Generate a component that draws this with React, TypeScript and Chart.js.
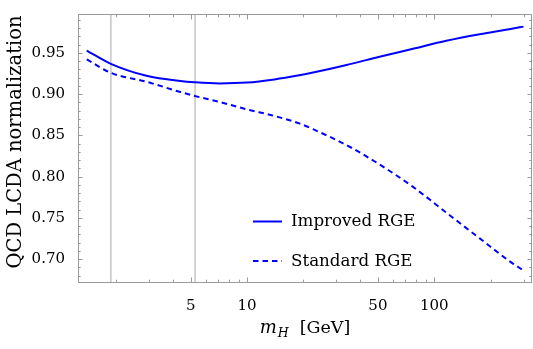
import React, { useEffect, useRef } from 'react';
import { Chart, registerables } from 'chart.js';

Chart.register(...registerables);

// ---- data ----
const mH = [1.39, 1.87, 2.9, 4.4, 5.25, 7.1, 10, 14, 19, 22.5, 34, 51, 77, 116, 175, 260, 300];
const improvedRGE = [0.9527, 0.9367, 0.9222, 0.9158, 0.9143, 0.913, 0.914, 0.9178, 0.9228, 0.9261, 0.9353, 0.9453, 0.955, 0.9647, 0.9726, 0.9792, 0.9818];
const standardRGE = [0.9422, 0.9258, 0.915, 0.9025, 0.8978, 0.8905, 0.8815, 0.8735, 0.8645, 0.8575, 0.8382, 0.8148, 0.7876, 0.7564, 0.7252, 0.6955, 0.6863];
const seriesLabels = ['Improved RGE', 'Standard RGE'];
const thresholds = [1.87, 5.27];
const xLabelTicks = [5, 10, 50, 100];
const xMinorTicks = [2, 3, 4, 6, 7, 8, 9, 20, 30, 40, 60, 70, 80, 90, 200, 300];
const yLabelTicks = [0.7, 0.75, 0.8, 0.85, 0.9, 0.95];
const yMinorTicks = [0.68, 0.69, 0.71, 0.72, 0.73, 0.74, 0.76, 0.77, 0.78, 0.79, 0.81, 0.82, 0.83, 0.84, 0.86, 0.87, 0.88, 0.89, 0.91, 0.92, 0.93, 0.94, 0.96, 0.97, 0.98, 0.99];
const xRange = [1.248, 333];
const yRange = [0.6711, 0.9971];

const BLUE = 'rgb(0,0,255)';
const FAMILY = '"DejaVu Serif", serif';
const FRAME = '#9a9a9a';

const decor = {
  id: 'decor',
  beforeDatasetsDraw(chart: any) {
    const { ctx, chartArea, scales } = chart;
    ctx.save();
    ctx.strokeStyle = '#c8c8c8';
    ctx.lineWidth = 1.6;
    thresholds.forEach((t) => {
      const px = scales.x.getPixelForValue(t);
      ctx.beginPath();
      ctx.moveTo(px, chartArea.top);
      ctx.lineTo(px, chartArea.bottom);
      ctx.stroke();
    });
    ctx.restore();
  },
  afterDraw(chart: any) {
    const { ctx, chartArea, scales } = chart;
    const { left, right, top, bottom } = chartArea;
    ctx.save();
    // frame
    ctx.strokeStyle = FRAME;
    ctx.lineWidth = 1;
    ctx.strokeRect(left + 0.5, top + 0.5, right - left - 1, bottom - top - 1);
    // x ticks (bottom + top, inward)
    const xt = (v: number, len: number) => {
      const px = Math.round(scales.x.getPixelForValue(v)) + 0.5;
      ctx.beginPath();
      ctx.moveTo(px, bottom);
      ctx.lineTo(px, bottom - len);
      ctx.moveTo(px, top);
      ctx.lineTo(px, top + len);
      ctx.stroke();
    };
    xLabelTicks.forEach((v) => xt(v, 5.5));
    xMinorTicks.forEach((v) => xt(v, 3.3));
    const yt = (v: number, len: number) => {
      const py = Math.round(scales.y.getPixelForValue(v)) + 0.5;
      ctx.beginPath();
      ctx.moveTo(left, py);
      ctx.lineTo(left + len, py);
      ctx.moveTo(right, py);
      ctx.lineTo(right - len, py);
      ctx.stroke();
    };
    yLabelTicks.forEach((v) => yt(v, 4.5));
    yMinorTicks.forEach((v) => yt(v, 2.7));

    // legend
    const rows = [226, 265.6];
    chart.data.datasets.forEach((ds: any, i: number) => {
      const base = rows[i];
      ctx.strokeStyle = ds.borderColor;
      ctx.lineWidth = 2;
      ctx.setLineDash(ds.borderDash || []);
      ctx.beginPath();
      ctx.moveTo(253, base - 4.5);
      ctx.lineTo(282, base - 4.5);
      ctx.stroke();
      ctx.setLineDash([]);
      ctx.fillStyle = '#000';
      ctx.font = `16.7px ${FAMILY}`;
      ctx.textAlign = 'left';
      ctx.textBaseline = 'alphabetic';
      ctx.fillText(ds.label, 291, base);
    });

    // y title
    ctx.save();
    ctx.translate(21, 142);
    ctx.rotate(-Math.PI / 2);
    ctx.font = `19.5px ${FAMILY}`;
    ctx.fillStyle = '#000';
    ctx.textAlign = 'center';
    ctx.textBaseline = 'alphabetic';
    ctx.fillText('QCD LCDA normalization', 0, 0);
    ctx.restore();

    // x title: m_H [GeV]
    const base = 333;
    const fM = `italic 18px ${FAMILY}`;
    const fH = `italic 12.5px ${FAMILY}`;
    const fG = `17.5px ${FAMILY}`;
    ctx.font = fM;
    const mW = ctx.measureText('m').width;
    ctx.font = fH;
    const hW = ctx.measureText('H').width;
    ctx.font = fG;
    const gW = ctx.measureText('[GeV]').width;
    const gap = 11;
    const total = mW + hW + 1 + gap + gW;
    let x0 = (left + right) / 2 - total / 2;
    ctx.fillStyle = '#000';
    ctx.textAlign = 'left';
    ctx.textBaseline = 'alphabetic';
    ctx.font = fM;
    ctx.fillText('m', x0, base);
    x0 += mW + 1;
    ctx.font = fH;
    ctx.fillText('H', x0, base + 4);
    x0 += hW + gap;
    ctx.font = fG;
    ctx.fillText('[GeV]', x0, base);
    ctx.restore();
  },
};

export default function App() {
  const ref = useRef<HTMLCanvasElement | null>(null);
  useEffect(() => {
    if (!ref.current) return;
    const chart = new Chart(ref.current, {
      type: 'line',
      data: {
        datasets: [
          {
            label: seriesLabels[0],
            data: mH.map((x, i) => ({ x, y: improvedRGE[i] })),
            borderColor: BLUE,
            borderWidth: 2,
            borderDash: [],
            pointRadius: 0,
            fill: false,
            cubicInterpolationMode: 'monotone',
          },
          {
            label: seriesLabels[1],
            data: mH.map((x, i) => ({ x, y: standardRGE[i] })),
            borderColor: BLUE,
            borderWidth: 2,
            borderDash: [5.5, 4],
            pointRadius: 0,
            fill: false,
            cubicInterpolationMode: 'monotone',
          },
        ],
      },
      options: {
        animation: false,
        responsive: true,
        maintainAspectRatio: false,
        layout: { padding: { top: 4, right: 1, left: 0, bottom: 0 } },
        plugins: { legend: { display: false }, tooltip: { enabled: false } },
        scales: {
          x: {
            type: 'logarithmic',
            min: xRange[0],
            max: xRange[1],
            grid: { display: false },
            border: { display: false },
            afterBuildTicks: (s: any) => {
              s.ticks = xLabelTicks.map((v) => ({ value: v }));
            },
            afterFit: (s: any) => {
              s.height = 66;
            },
            ticks: {
              autoSkip: false,
              maxRotation: 0,
              minRotation: 0,
              padding: 6,
              color: '#000',
              font: { family: FAMILY, size: 15 },
              callback: (v: any) => String(v),
            },
          },
          y: {
            type: 'linear',
            min: yRange[0],
            max: yRange[1],
            grid: { display: false },
            border: { display: false },
            afterBuildTicks: (s: any) => {
              s.ticks = yLabelTicks.map((v) => ({ value: v }));
            },
            afterFit: (s: any) => {
              s.width = 78;
            },
            ticks: {
              padding: 5,
              color: '#000',
              font: { family: FAMILY, size: 15 },
              callback: (v: any) => Number(v).toFixed(2),
            },
          },
        },
      },
      plugins: [decor],
    } as any);
    return () => chart.destroy();
  }, []);
  return (
    <div style={{ position: 'fixed', left: 0, top: 0, width: '533px', height: '349px', background: '#fff' }}>
      <canvas ref={ref} />
    </div>
  );
}
